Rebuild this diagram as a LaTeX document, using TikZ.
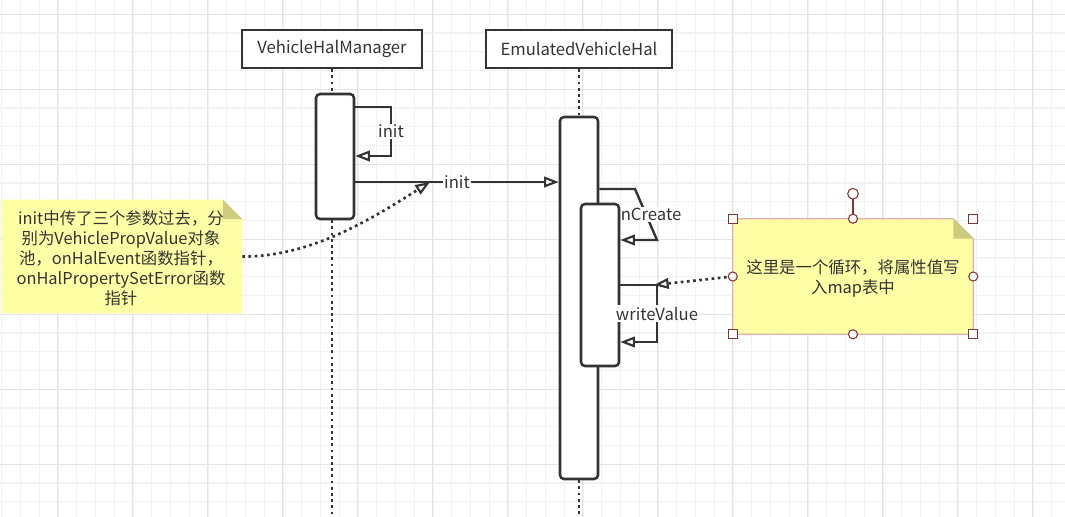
\documentclass[tikz,border=0pt]{standalone}
\usepackage{fontspec}
\setmainfont{Noto Sans CJK SC}
\usetikzlibrary{arrows.meta,calc}
\definecolor{ink}{RGB}{51,51,51}
\definecolor{txt}{RGB}{52,52,52}
\definecolor{gminor}{RGB}{242,242,242}
\definecolor{gmajor}{RGB}{228,228,228}
\definecolor{notey}{RGB}{255,255,166}
\definecolor{foldc}{RGB}{204,204,122}
\definecolor{selb}{RGB}{222,176,176}
\definecolor{handlec}{RGB}{140,50,50}
\pgfdeclarelayer{gridlayer}
\pgfdeclarelayer{under}
\pgfsetlayers{gridlayer,under,main}
\tikzset{
  gmin/.style={draw=gminor, line width=1pt},
  gmaj/.style={draw=gmajor, line width=1pt},
  hdr/.style={draw=ink, line width=1.9pt, fill=white, inner sep=0pt, minimum height=28.5pt, text=txt, font=\fontsize{12.5}{14}\selectfont},
  actbox/.style={draw=ink, line width=1.9pt, fill=white, rounded corners=3pt, inner sep=0pt, minimum width=28.5pt},
  life/.style={draw=ink, line width=2pt, dash pattern=on 2pt off 2.65pt},
  msg/.style={draw=ink, line width=1.8pt, -{Triangle[fill=white, length=11pt, width=8pt, line width=1.6pt]}},
  notelink/.style={draw=ink, line width=2pt, dash pattern=on 2pt off 2.65pt, -{Triangle[fill=white, length=11pt, width=8pt, line width=1.6pt]}},
  lbl/.style={fill=white, inner sep=1pt, text=txt, font=\fontsize{12.5}{14}\selectfont},
  notetext/.style={align=center, text=txt, inner sep=0pt, font=\fontsize{12.3}{15}\selectfont},
  notebox/.style={inner sep=0pt, minimum width=180pt},
  hsty/.style={draw=handlec, fill=white, line width=0.8pt},
}
\begin{document}
\begin{tikzpicture}[x=0.75pt,y=-0.75pt]
\useasboundingbox (0,0) rectangle (1065,517);
\begin{pgfonlayer}{gridlayer}
\fill[white] (0,0) rectangle (1065,517);
\foreach \k in {0,...,56} \draw[gmin] ({1.7+18.75*\k},0) -- ({1.7+18.75*\k},517);
\foreach \k in {0,...,27} \draw[gmin] (0,{14.3+18.75*\k}) -- (1065,{14.3+18.75*\k});
\foreach \k in {0,...,13} \draw[gmaj] ({57.7+75*\k},0) -- ({57.7+75*\k},517);
\foreach \k in {0,...,6} \draw[gmaj] (0,{14.3+75*\k}) -- (1065,{14.3+75*\k});
\end{pgfonlayer}

% headers
\node[hdr, minimum width=135pt] (vhm) at (332,49) {VehicleHalManager};
\node[hdr, minimum width=139.5pt] (evh) at (579,49) {EmulatedVehicleHal};
\coordinate (vhmEnd) at (332,517);
\coordinate (evhEnd) at (579,517);

% activations
\node[actbox, minimum height=93.75pt] (act1) at (335,156.5) {};
\node[actbox, minimum height=271.5pt] (act2) at (579,298) {};
\node[actbox, minimum height=121.5pt] (act3) at (600,285) {};

\begin{pgfonlayer}{under}
\draw[life] (vhm.south) -- (vhm.south |- act1.north);
\draw[life] (vhm.south |- act1.south) -- (vhmEnd);
\draw[life] (evh.south) -- (act2.north);
\draw[life] (act2.south) -- (evhEnd);
\draw[msg] (act2.east |- 0,189) -- (635,189) -- node[lbl] (lblCreate) {onCreate} (657,240) -- (act3.east |- 0,240);
\end{pgfonlayer}

% messages
\draw[msg] (act1.east |- 0,107) -- (391,107) -- node[lbl] (lblInit1) {init} (391,156) -- (act1.east |- 0,156);
\draw[msg] (act1.east |- 0,182) -- node[lbl] (lblInit2) {init} (act2.west |- 0,182);
\draw[msg] (act3.east |- 0,285) -- (657,285) -- node[lbl] (lblWrite) {writeValue} (657,342) -- (act3.east |- 0,342);

% note 1
\node[notebox, minimum height=84.75pt] (note1) at (122,256.5) {};
\fill[notey] (note1.south west) -- (note1.north west) -- ([xshift=-14.5pt]note1.north east) -- ([yshift=-14.5pt]note1.north east) -- (note1.south east) -- cycle;
\fill[foldc] ([xshift=-14.5pt]note1.north east) -- ([xshift=-14.5pt,yshift=-14.5pt]note1.north east) -- ([yshift=-14.5pt]note1.north east) -- cycle;
\node[notetext] (note1txt) at (121,258) {init中传了三个参数过去，分\\别为VehiclePropValue对象\\池，onHalEvent函数指针，\\onHalPropertySetError函数\\指针};
\coordinate (initTip) at (430,182);
\draw[notelink] (note1.east) .. controls (310,257) and (370,220) .. (initTip);

% note 2
\node[notebox, minimum height=86.25pt] (note2) at (853,276.5) {};
\filldraw[fill=notey, draw=selb, line width=1pt] (note2.south west) -- (note2.north west) -- ([xshift=-15pt]note2.north east) -- ([yshift=-15pt]note2.north east) -- (note2.south east) -- cycle;
\fill[foldc] ([xshift=-15pt]note2.north east) -- ([xshift=-15pt,yshift=-15pt]note2.north east) -- ([yshift=-15pt]note2.north east) -- cycle;
\node[notetext, font=\fontsize{12.3}{14.5}\selectfont] (note2txt) at (853,278.5) {这里是一个循环，将属性值写\\入map表中};
\coordinate (wvTip) at (654,285);
\draw[notelink] (note2.west) -- (wvTip);

% selection handles
\draw[draw=handlec, line width=0.8pt] (note2.north) -- ($(note2.north)+(0,-20)$);
\filldraw[hsty] ($(note2.north)+(0,-25)$) circle[radius=4pt];
\foreach \a in {north west, north east, south west, south east}
  \filldraw[hsty] ($(note2.\a)+(-4.5,-4.5)$) rectangle ($(note2.\a)+(4.5,4.5)$);
\foreach \a in {north, south, east, west}
  \filldraw[hsty] (note2.\a) circle[radius=3.4pt];
\end{tikzpicture}
\end{document}
